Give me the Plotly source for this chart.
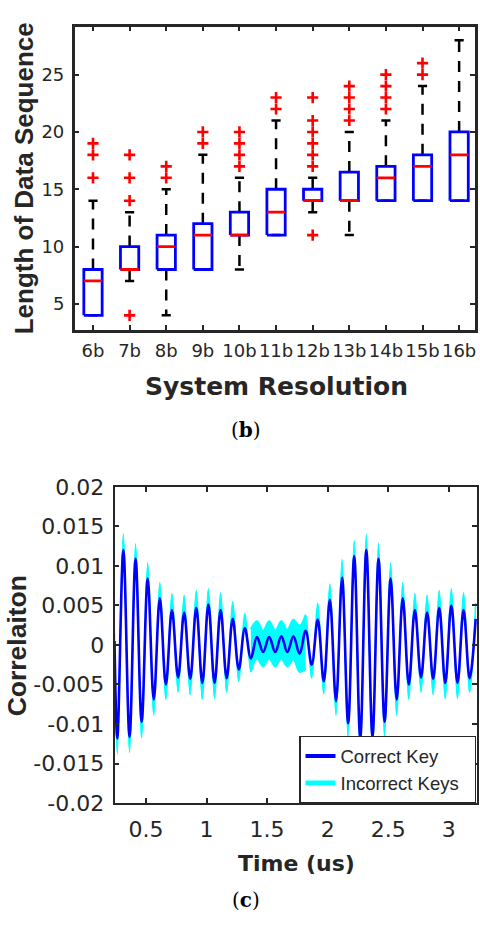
import plotly.graph_objects as go

W, H = 480, 927
INK = "#262626"

# ---------------- (b) box plot: sequence length vs. resolution ----------------
resolutions = ["6b", "7b", "8b", "9b", "10b", "11b", "12b", "13b", "14b", "15b", "16b"]
q1 = [4, 8, 8, 8, 11, 11, 14, 14, 14, 14, 14]
median = [7, 8, 10, 11, 11, 13, 14, 14, 16, 17, 18]
q3 = [8, 10, 11, 12, 13, 15, 15, 16.5, 17, 18, 20]
whisker_lo = [4, 7, 4, 8, 8, 11, 13, 11, 14, 14, 14]
whisker_hi = [14, 13, 15, 18, 16, 21, 16, 20, 21, 24, 28]
outliers = [
    [16, 18, 19],
    [4, 14, 16, 18],
    [16, 17],
    [19, 20],
    [17, 18, 19, 20],
    [22, 23],
    [11, 17, 18, 19, 20, 21, 23],
    [21, 22, 23, 24],
    [22, 23, 24, 25],
    [25, 26],
    [],
]
y_ticks_b = [5, 10, 15, 20, 25]

# ---------------- (c) correlation traces (extrema of each oscillation) ----------------
t_trough = [0.263, 0.364, 0.464, 0.564, 0.664, 0.765, 0.865, 0.965, 1.066, 1.166,
            1.266, 1.366, 1.467, 1.567, 1.667, 1.768, 1.868, 1.968, 2.069, 2.169,
            2.269, 2.370, 2.470, 2.570, 2.670, 2.771, 2.871, 2.971, 3.072, 3.172]
t_peak = [0.313, 0.414, 0.514, 0.614, 0.714, 0.815, 0.915, 1.015, 1.116, 1.216,
          1.316, 1.416, 1.517, 1.617, 1.717, 1.818, 1.918, 2.018, 2.119, 2.219,
          2.319, 2.420, 2.520, 2.620, 2.720, 2.821, 2.921, 3.021, 3.122, 3.222]
key_trough = [-0.0118, -0.0116, -0.0097, -0.0069, -0.0050, -0.0041, -0.0043, -0.0048, -0.0048, -0.0042,
              -0.0031, -0.0017, -0.0009, -0.0009, -0.0009, -0.0011, -0.0025, -0.0046, -0.0071, -0.0099,
              -0.0118, -0.0116, -0.0097, -0.0069, -0.0050, -0.0041, -0.0043, -0.0048, -0.0048, -0.0042]
key_peak = [0.0120, 0.0109, 0.0084, 0.0059, 0.0044, 0.0041, 0.0047, 0.0051, 0.0044, 0.0033,
            0.0021, 0.0010, 0.0010, 0.0011, 0.0011, 0.0018, 0.0032, 0.0057, 0.0085, 0.0112,
            0.0120, 0.0109, 0.0084, 0.0059, 0.0044, 0.0041, 0.0047, 0.0050, 0.0044, 0.0033]
wrong_trough = [-0.0138, -0.0136, -0.0118, -0.0089, -0.0069, -0.0060, -0.0063, -0.0069, -0.0068, -0.0060,
                -0.0046, -0.0034, -0.0027, -0.0027, -0.0027, -0.0034, -0.0042, -0.0062, -0.0089, -0.0118,
                -0.0138, -0.0136, -0.0116, -0.0089, -0.0069, -0.0060, -0.0063, -0.0068, -0.0068, -0.0060]
wrong_peak = [0.0141, 0.0128, 0.0104, 0.0079, 0.0065, 0.0063, 0.0069, 0.0071, 0.0066, 0.0055,
              0.0040, 0.0030, 0.0030, 0.0030, 0.0032, 0.0038, 0.0053, 0.0077, 0.0108, 0.0132,
              0.0140, 0.0129, 0.0104, 0.0079, 0.0065, 0.0063, 0.0069, 0.0071, 0.0066, 0.0053]
t_start, key_start, wrong_start = 0.24, 0.0005, 0.0015

# spread of the incorrect keys where the correct key is quiet
t_band = [1.366, 1.416, 1.467, 1.517, 1.567, 1.617, 1.667, 1.717, 1.768, 1.818]
band_upper = [0.0020, 0.0030, 0.0018, 0.0030, 0.0018, 0.0030, 0.0019, 0.0032, 0.0024, 0.0038]
band_lower = [-0.0034, -0.0017, -0.0027, -0.0017, -0.0027, -0.0017, -0.0027, -0.0018, -0.0034, -0.0030]

time_ticks = [0.5, 1, 1.5, 2, 2.5, 3]
time_labels = ["0.5", "1", "1.5", "2", "2.5", "3"]
corr_ticks = [-0.02, -0.015, -0.01, -0.005, 0, 0.005, 0.01, 0.015, 0.02]
corr_labels = ["-0.02", "-0.015", "-0.01", "-0.005", "0", "0.005", "0.01", "0.015", "0.02"]

fig = go.Figure()

# ---- box plot marks ----
pos = list(range(1, len(resolutions) + 1))
half_box, half_cap = 0.25, 0.125

wx, wy, cx, cy, bx, by, mx, my, ox, oy = [], [], [], [], [], [], [], [], [], []
for p, a, m, b, lo, hi, outs in zip(pos, q1, median, q3, whisker_lo, whisker_hi, outliers):
    wx += [p, p, None, p, p, None]
    wy += [b, hi, None, a, lo, None]
    cx += [p - half_cap, p + half_cap, None, p - half_cap, p + half_cap, None]
    cy += [hi, hi, None, lo, lo, None]
    bx += [p - half_box, p + half_box, p + half_box, p - half_box, p - half_box, None]
    by += [a, a, b, b, a, None]
    mx += [p - half_box, p + half_box, None]
    my += [m, m, None]
    ox += [p] * len(outs)
    oy += outs

common = dict(xaxis="x", yaxis="y", showlegend=False, hoverinfo="skip")
fig.add_trace(go.Scatter(x=wx, y=wy, mode="lines",
                         line=dict(color="black", width=2.5, dash="11px,9px"), **common))
fig.add_trace(go.Scatter(x=cx, y=cy, mode="lines", line=dict(color="black", width=2.5), **common))
fig.add_trace(go.Scatter(x=bx, y=by, mode="lines", line=dict(color="#0000ff", width=2.8), **common))
fig.add_trace(go.Scatter(x=mx, y=my, mode="lines", line=dict(color="#ff0000", width=2.8), **common))
fig.add_trace(go.Scatter(x=ox, y=oy, mode="markers",
                         marker=dict(symbol="cross-thin", size=8, color="#ff0000",
                                     line=dict(color="#ff0000", width=2.6)), **common))

# ---- correlation curves ----
t_all = [t_start]
key_all = [key_start]
wrong_all = [wrong_start]
for tt, tp, kt, kp, wt, wp in zip(t_trough, t_peak, key_trough, key_peak, wrong_trough, wrong_peak):
    t_all += [tt, tp]
    key_all += [kt, kp]
    wrong_all += [wt, wp]

c2 = dict(xaxis="x2", yaxis="y2", hoverinfo="skip")
spline = dict(shape="spline", smoothing=1.05, simplify=False)
CYAN, BLUE = "#00ffff", "#0000ff"

# incorrect keys: filled region between the correct-key curve and their outer swing
fig.add_trace(go.Scatter(x=t_all, y=key_all, mode="lines", showlegend=False,
                         line=dict(color=CYAN, width=0, **spline), **c2))
fig.add_trace(go.Scatter(x=t_all, y=wrong_all, mode="lines", showlegend=False, fill="tonexty",
                         fillcolor=CYAN, line=dict(color=CYAN, width=1.5, **spline), **c2))
fig.add_trace(go.Scatter(x=t_band, y=band_upper, mode="lines", showlegend=False,
                         line=dict(color=CYAN, width=2, **spline), **c2))
fig.add_trace(go.Scatter(x=t_band, y=band_lower, mode="lines", showlegend=False, fill="tonexty",
                         fillcolor=CYAN, line=dict(color=CYAN, width=2, **spline), **c2))
# correct key on top
fig.add_trace(go.Scatter(x=t_all, y=key_all, mode="lines", showlegend=False,
                         line=dict(color=BLUE, width=2.6, **spline), **c2))
# legend entries
fig.add_trace(go.Scatter(x=[None], y=[None], mode="lines", name="Correct Key\u00a0\u00a0",
                         line=dict(color=BLUE, width=4), **c2))
fig.add_trace(go.Scatter(x=[None], y=[None], mode="lines", name="Incorrect Keys\u00a0\u00a0",
                         line=dict(color=CYAN, width=5), **c2))

def frame(**kw):
    d = dict(showline=True, linecolor=INK, mirror="allticks", ticks="inside",
             tickcolor=INK, ticklen=5, showgrid=False, zeroline=False, fixedrange=True)
    d.update(kw)
    return d

tick_font_b = dict(family="DejaVu Sans", size=18, color=INK)
tick_font_c = dict(family="DejaVu Sans", size=22, color=INK)

fig.update_layout(
    width=W, height=H,
    margin=dict(l=0, r=0, t=0, b=0),
    paper_bgcolor="white", plot_bgcolor="white",
    xaxis=frame(domain=[75 / W, 476.5 / W], range=[0.5, 11.42], tickmode="array",
                tickvals=pos, ticktext=resolutions, tickfont=tick_font_b,
                linewidth=2.5, tickwidth=2, anchor="y", ticklabelstandoff=3),
    yaxis=frame(domain=[1 - 326.7 / H, 1 - 15 / H], range=[2.73, 29.19], tickmode="array",
                tickvals=y_ticks_b, tickfont=tick_font_b, linewidth=2.5, tickwidth=2,
                anchor="x", ticklabelstandoff=4),
    xaxis2=frame(domain=[115 / W, 479 / W], range=[0.24, 3.233], tickmode="array",
                 tickvals=time_ticks, ticktext=time_labels, tickfont=tick_font_c,
                 linewidth=1.8, tickwidth=1.5, anchor="y2", ticklabelstandoff=6),
    yaxis2=frame(domain=[1 - 813 / H, 1 - 488 / H], range=[-0.02, 0.02], tickmode="array",
                 tickvals=corr_ticks, ticktext=corr_labels, tickfont=tick_font_c,
                 linewidth=1.8, tickwidth=1.5, anchor="x2", ticklabelstandoff=4),
    legend=dict(x=478 / W, y=1 - 744 / H, xanchor="right", yanchor="top",
                bgcolor="white", bordercolor=INK, borderwidth=1.5, traceorder="normal",
                font=dict(family="Liberation Sans, Arial", size=18.5, color=INK),
                tracegroupgap=0, itemwidth=30),
    showlegend=True,
)

def label(text, px, py, font, angle=0):
    fig.add_annotation(text=text, x=px / W, y=1 - py / H, xref="paper", yref="paper",
                       xanchor="center", yanchor="middle", showarrow=False,
                       textangle=angle, font=font)

label("Length of Data Sequence", 24.5, 170.5,
      dict(family="Liberation Sans, Arial", size=26, color=INK, weight="bold"), angle=-90)
label("System Resolution", 277.5, 385,
      dict(family="DejaVu Sans", size=25, color=INK, weight="bold"))
label("(<b>b</b>)", 247.5, 430, dict(family="DejaVu Serif", size=20, color="black"))
label("Correlaiton", 18, 651,
      dict(family="Liberation Sans, Arial", size=26.5, color=INK, weight="bold"), angle=-90)
label("Time (us)", 297.7, 875, dict(family="DejaVu Sans", size=22, color=INK, weight="bold"))
label("(<b>c</b>)", 246.7, 913, dict(family="DejaVu Serif", size=20, color="black"))

fig.write_html("out.html", config={"displayModeBar": False})
